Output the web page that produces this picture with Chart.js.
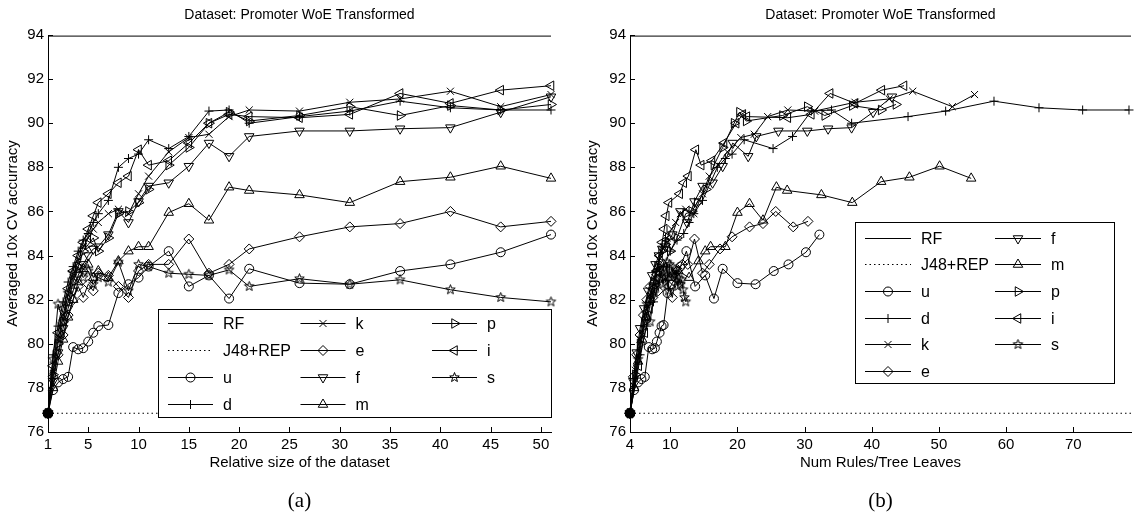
<!DOCTYPE html>
<html><head><meta charset="utf-8">
<script src="https://cdn.jsdelivr.net/npm/chart.js@4.4.1/dist/chart.umd.min.js"></script>
<style>
html,body{margin:0;padding:0;background:#fff;}
#wrap{position:relative;width:1143px;height:517px;overflow:hidden;background:#fff;}
.cv{position:absolute;top:0;}
.cap{position:absolute;top:486px;font-family:"Liberation Serif","DejaVu Serif",serif;font-size:21px;color:#000;width:100px;text-align:center;line-height:28px;}
</style></head><body>
<div id="wrap">
<div class="cv" style="left:0;width:570px;height:517px;"><canvas id="ca" width="570" height="517"></canvas></div>
<div class="cv" style="left:572px;width:571px;height:517px;"><canvas id="cb" width="571" height="517"></canvas></div>
<div class="cap" style="left:249.5px">(a)</div>
<div class="cap" style="left:830.5px">(b)</div>
</div>
<script>
// ---------------- data ----------------
const TITLE = 'Dataset: Promoter WoE Transformed';
const Y_TITLE = 'Averaged 10x CV accurracy';
const X_TITLE_A = 'Relative size of the dataset';
const X_TITLE_B = 'Num Rules/Tree Leaves';
const Y_TICKS = [76, 78, 80, 82, 84, 86, 88, 90, 92, 94];
const X_TICKS_A = [1, 5, 10, 15, 20, 25, 30, 35, 40, 45, 50];
const X_TICKS_B = [4, 10, 20, 30, 40, 50, 60, 70];
const RF = 93.95;
const J48 = 76.85;

// relative dataset size (panel a x values, shared by all series)
const SIZE = [1, 1.5, 2, 2.5, 3, 3.5, 4, 4.5, 5, 5.5, 6, 7, 8, 9, 10, 11, 13, 15, 17, 19, 21, 26, 31, 36, 41, 46, 51];

// accuracy per series
const U = [76.85, 77.9, 78.25, 78.4, 78.5, 79.85, 79.75, 79.8, 80.1, 80.5, 80.8, 80.85, 82.3, 82.7, 83.0, 83.5, 84.2, 82.6, 83.1, 82.05, 83.4, 82.75, 82.7, 83.3, 83.6, 84.15, 84.95];
const D = [76.85, 79.5, 80.8, 81.9, 82.8, 83.5, 84.2, 84.7, 85.0, 85.5, 85.9, 86.5, 88.0, 88.4, 88.6, 89.25, 88.85, 89.4, 90.55, 90.6, 90.0, 90.3, 90.55, 91.0, 90.7, 90.6, 90.6];
const K = [76.85, 78.8, 80.2, 81.3, 82.2, 83.0, 83.8, 84.4, 84.8, 85.2, 85.5, 85.9, 86.1, 85.9, 86.8, 87.6, 88.7, 89.35, 89.5, 90.3, 90.6, 90.55, 90.95, 91.1, 91.45, 90.75, 91.3];
const E = [76.85, 78.5, 79.5, 80.4, 81.3, 82.0, 82.6, 82.1, 82.7, 82.4, 83.2, 83.1, 82.6, 82.1, 83.3, 83.6, 83.6, 84.75, 83.2, 83.6, 84.3, 84.85, 85.3, 85.45, 86.0, 85.3, 85.55];
const F = [76.85, 78.3, 79.6, 80.7, 81.6, 82.4, 83.1, 83.6, 84.0, 84.3, 84.4, 84.95, 86.0, 85.5, 86.45, 87.15, 87.3, 88.05, 89.1, 88.5, 89.4, 89.65, 89.65, 89.75, 89.8, 90.5, 91.2];
const M = [76.85, 78.0, 79.2, 80.2, 81.2, 82.0, 82.8, 83.4, 83.6, 83.0, 83.3, 83.0, 83.75, 84.2, 84.4, 84.4, 85.95, 86.35, 85.6, 87.1, 86.95, 86.75, 86.4, 87.35, 87.55, 88.05, 87.5];
const P = [76.85, 78.6, 80.0, 81.0, 81.9, 82.8, 83.5, 84.2, 84.5, 84.8, 84.2, 84.8, 85.9, 86.0, 86.4, 87.0, 88.1, 88.9, 90.0, 90.5, 90.1, 90.35, 90.75, 90.35, 90.8, 90.6, 90.85];
const I = [76.85, 79.0, 80.5, 81.6, 82.5, 83.3, 84.0, 84.6, 85.2, 85.8, 86.4, 86.8, 87.3, 87.6, 88.8, 88.1, 88.3, 89.1, 90.0, 90.4, 90.3, 90.25, 90.4, 91.35, 90.9, 91.5, 91.7];
const S = [76.85, 79.3, 81.8, 81.0, 82.3, 83.2, 83.5, 83.0, 83.3, 82.7, 83.0, 82.8, 83.7, 82.4, 83.6, 83.5, 83.2, 83.15, 83.1, 83.35, 82.6, 82.95, 82.7, 82.9, 82.45, 82.1, 81.9];

// number of rules / tree leaves per series (panel b x values)
const U_LEAVES = [4, 4.6, 5.2, 5.7, 6.2, 6.8, 7.3, 7.7, 8.0, 8.4, 8.7, 9.0, 9.6, 10.2, 10.8, 11.5, 12.4, 13.7, 15.2, 16.5, 17.8, 20.0, 22.7, 25.4, 27.6, 30.2, 32.2];
const D_LEAVES = [4, 5.5, 6.5, 7.5, 8.3, 9.0, 10.0, 11.0, 12.0, 12.8, 13.5, 14.8, 17.0, 18.2, 19.2, 21.0, 25.3, 28.2, 31.0, 34.0, 37.0, 45.4, 51.0, 58.2, 64.9, 71.4, 78.3];
const K_LEAVES = [4, 4.8, 5.5, 6.2, 7.0, 7.7, 8.3, 9.0, 9.5, 10.2, 10.8, 11.5, 12.3, 13.5, 14.8, 15.8, 18.5, 20.5, 22.5, 24.5, 27.5, 31.5, 37.5, 42.6, 46.1, 52.0, 55.3];
const E_LEAVES = [4, 4.5, 5.0, 5.5, 6.0, 6.5, 7.0, 7.4, 7.8, 8.2, 8.6, 9.2, 9.8, 10.3, 11.0, 11.8, 12.6, 13.6, 14.8, 15.8, 17.4, 19.2, 21.8, 23.8, 25.7, 28.3, 30.5];
const F_LEAVES = [4, 4.5, 5.0, 5.5, 6.1, 6.7, 7.3, 7.8, 8.3, 8.8, 9.3, 10.3, 11.5, 12.5, 13.6, 14.8, 16.3, 17.8, 19.3, 21.6, 22.8, 26.1, 30.4, 33.5, 37.0, 40.2, 43.0];
const M_LEAVES = [4, 4.6, 5.2, 5.8, 6.4, 7.0, 7.5, 8.0, 9.0, 10.0, 11.2, 12.8, 14.2, 15.2, 16.0, 18.2, 20.0, 21.8, 23.8, 25.8, 27.4, 32.5, 37.1, 41.4, 45.6, 50.1, 54.8];
const P_LEAVES = [4, 4.8, 5.5, 6.2, 6.9, 7.5, 8.1, 8.7, 9.2, 9.7, 10.0, 11.0, 12.3, 13.2, 14.0, 15.3, 16.5, 17.8, 19.5, 20.3, 21.3, 26.7, 30.4, 33.0, 37.1, 41.4, 43.6];
const I_LEAVES = [4, 5.3, 6.2, 6.9, 7.5, 8.0, 8.4, 8.8, 9.1, 9.4, 9.8, 11.4, 12.0, 12.7, 13.8, 14.6, 16.2, 18.0, 19.8, 20.8, 21.4, 27.5, 31.0, 33.8, 37.5, 41.5, 44.8];
const S_LEAVES = [4, 5.2, 6.5, 7.0, 7.6, 8.0, 8.3, 8.5, 8.7, 8.9, 9.1, 9.3, 9.5, 9.7, 9.9, 10.1, 10.3, 10.5, 10.7, 10.9, 11.1, 11.3, 11.5, 11.7, 11.9, 12.1, 12.3];

// ---------------- styling ----------------
Chart.defaults.font.family = '"Liberation Sans", Arial, Helvetica, sans-serif';
Chart.defaults.color = '#000';

function makeStar() {
  const c = document.createElement('canvas');
  c.width = 13; c.height = 13;
  const g = c.getContext('2d');
  g.strokeStyle = '#000'; g.lineWidth = 1;
  g.beginPath();
  for (let k = 0; k < 10; k++) {
    const r = k % 2 === 0 ? 5 : 2.1;
    const a = -Math.PI / 2 + k * Math.PI / 5;
    const x = 6.5 + r * Math.cos(a), y = 6.5 + r * Math.sin(a);
    if (k) g.lineTo(x, y); else g.moveTo(x, y);
  }
  g.closePath(); g.stroke();
  return c;
}
const STAR = makeStar();

const MARK = {
  u: {style: 'circle', rot: 0, r: 4.5},
  d: {style: 'cross', rot: 0, r: 4.5},
  k: {style: 'crossRot', rot: 0, r: 5},
  e: {style: 'rectRot', rot: 0, r: 5},
  f: {style: 'triangle', rot: 180, r: 5.5},
  m: {style: 'triangle', rot: 0, r: 5.5},
  p: {style: 'triangle', rot: 90, r: 5.5},
  i: {style: 'triangle', rot: 270, r: 5.5},
  s: {style: STAR, rot: 0, r: 5}
};

function drawMarker(ctx, m, x, y) {
  ctx.save();
  ctx.strokeStyle = '#000'; ctx.lineWidth = 1;
  const r = m.r;
  if (typeof m.style !== 'string') {
    ctx.drawImage(m.style, x - m.style.width / 2, y - m.style.height / 2);
    ctx.restore(); return;
  }
  ctx.beginPath();
  if (m.style === 'circle') {
    ctx.arc(x, y, r, 0, Math.PI * 2);
  } else if (m.style === 'cross') {
    ctx.moveTo(x - r, y); ctx.lineTo(x + r, y); ctx.moveTo(x, y - r); ctx.lineTo(x, y + r);
  } else if (m.style === 'crossRot') {
    const q = r * Math.SQRT1_2;
    ctx.moveTo(x - q, y - q); ctx.lineTo(x + q, y + q); ctx.moveTo(x - q, y + q); ctx.lineTo(x + q, y - q);
  } else if (m.style === 'rectRot') {
    ctx.moveTo(x - r, y); ctx.lineTo(x, y - r); ctx.lineTo(x + r, y); ctx.lineTo(x, y + r); ctx.closePath();
  } else if (m.style === 'triangle') {
    let a = m.rot * Math.PI / 180;
    for (let k = 0; k < 3; k++) {
      const px = x + Math.sin(a) * r, py = y - Math.cos(a) * r;
      if (k) ctx.lineTo(px, py); else ctx.moveTo(px, py);
      a += 2 * Math.PI / 3;
    }
    ctx.closePath();
  }
  ctx.stroke();
  ctx.restore();
}

function seriesDS(name, xs, ys) {
  const m = MARK[name];
  return {
    label: name,
    data: xs.map((x, i) => ({x: x, y: ys[i]})),
    showLine: true, borderColor: '#000', borderWidth: 1, tension: 0, fill: false,
    pointStyle: m.style, pointRotation: m.rot, pointRadius: m.r, pointHoverRadius: m.r,
    pointBorderColor: '#000', pointBackgroundColor: 'rgba(0,0,0,0)', pointBorderWidth: 1,
    clip: false
  };
}

function refDS(label, y, x0, x1, dotted) {
  return {
    label: label,
    data: [{x: x0, y: y}, {x: x1, y: y}],
    showLine: true, borderColor: '#000', borderWidth: 1, fill: false,
    borderDash: dotted ? [1.5, 3] : [],
    pointRadius: dotted ? (c => c.dataIndex === 0 ? 4.8 : 0) : 0,
    pointStyle: 'circle', pointBackgroundColor: '#000', pointBorderColor: '#000',
    clip: false
  };
}

const tickPlugin = {
  id: 'inTicks',
  afterDraw(chart) {
    const ctx = chart.ctx, a = chart.chartArea;
    const xs = chart.scales.x, ys = chart.scales.y;
    ctx.save();
    ctx.strokeStyle = '#000'; ctx.lineWidth = 1;
    ctx.beginPath();
    xs.ticks.forEach(t => {
      const px = Math.round(xs.getPixelForValue(t.value)) + 0.5;
      ctx.moveTo(px, a.bottom); ctx.lineTo(px, a.bottom - 5);
    });
    ys.ticks.forEach(t => {
      const py = Math.round(ys.getPixelForValue(t.value)) + 0.5;
      ctx.moveTo(a.left, py); ctx.lineTo(a.left + 5, py);
    });
    ctx.stroke();
    ctx.restore();
  }
};

const legendPlugin = {
  id: 'boxLegend',
  afterDatasetsDraw(chart, args, opts) {
    const L = chart.options.plugins.boxLegend;
    if (!L) return;
    const ctx = chart.ctx;
    ctx.save();
    ctx.fillStyle = '#fff';
    ctx.fillRect(L.box[0], L.box[1], L.box[2] - L.box[0], L.box[3] - L.box[1]);
    ctx.strokeStyle = '#000'; ctx.lineWidth = 1;
    ctx.strokeRect(L.box[0] + 0.5, L.box[1] + 0.5, L.box[2] - L.box[0] - 1, L.box[3] - L.box[1] - 1);
    ctx.font = '16px "Liberation Sans", Arial, sans-serif';
    ctx.textBaseline = 'middle';
    ctx.fillStyle = '#000';
    L.cols.forEach((col, ci) => {
      const x0 = L.colX[ci];
      col.forEach((name, ri) => {
        const y = Math.round(L.row0 + ri * L.rowStep) + 0.5;
        ctx.beginPath();
        ctx.setLineDash(name === 'J48+REP' ? [1.5, 3] : []);
        ctx.moveTo(x0, y); ctx.lineTo(x0 + L.lineLen, y);
        ctx.stroke();
        ctx.setLineDash([]);
        if (MARK[name]) drawMarker(ctx, MARK[name], x0 + L.lineLen / 2, y);
        ctx.fillText(name, x0 + L.lineLen + 10, y + 1);
      });
    });
    ctx.restore();
  }
};

function makeChart(id, cfg) {
  return new Chart(document.getElementById(id), {
    type: 'scatter',
    data: {datasets: cfg.datasets},
    options: {
      responsive: false, animation: false, devicePixelRatio: 1,
      layout: {padding: {left: 0, right: cfg.padRight, top: 0, bottom: 45}},
      plugins: {
        legend: {display: false}, tooltip: {enabled: false},
        title: {display: true, text: TITLE, fullSize: false,
          font: {size: 14, weight: 'normal'}, padding: {top: 6.6, bottom: 11.6}, color: '#000'},
        boxLegend: cfg.legend
      },
      scales: {
        x: {
          type: 'linear', min: cfg.xMin, max: cfg.xMax,
          afterBuildTicks: s => { s.ticks = cfg.xTicks.map(v => ({value: v})); },
          afterFit: s => { s.height = 40; },
          ticks: {font: {size: 15}, padding: 4, maxRotation: 0, autoSkip: false, color: '#000'},
          grid: {display: true, drawOnChartArea: false, drawTicks: false, color: 'rgba(0,0,0,0)'},
          border: {display: true, color: '#000', width: 1},
          title: {display: true, text: cfg.xTitle, font: {size: 15}, padding: {top: 0, bottom: 0}, color: '#000'}
        },
        y: {
          type: 'linear', min: 76, max: 94,
          afterBuildTicks: s => { s.ticks = Y_TICKS.map(v => ({value: v})); },
          afterFit: s => { s.width = cfg.yWidth; },
          ticks: {font: {size: 15}, padding: 4, color: '#000'},
          grid: {display: true, drawOnChartArea: false, drawTicks: false, color: 'rgba(0,0,0,0)'},
          border: {display: true, color: '#000', width: 1},
          title: {display: true, text: Y_TITLE, font: {size: 15}, padding: {top: cfg.yTitlePad, bottom: 0}, color: '#000'}
        }
      }
    },
    plugins: [legendPlugin, tickPlugin]
  });
}

const SERIES_A = [['u', U], ['d', D], ['k', K], ['e', E], ['f', F], ['m', M], ['p', P], ['i', I], ['s', S]];
const SERIES_B = [['u', U_LEAVES, U], ['d', D_LEAVES, D], ['k', K_LEAVES, K], ['e', E_LEAVES, E], ['f', F_LEAVES, F],
                  ['m', M_LEAVES, M], ['p', P_LEAVES, P], ['i', I_LEAVES, I], ['s', S_LEAVES, S]];

makeChart('ca', {
  xMin: 1, xMax: 51, xTicks: X_TICKS_A, xTitle: X_TITLE_A, padRight: 19, yWidth: 48, yTitlePad: 4,
  datasets: [refDS('J48+REP', J48, 1, 51, true), refDS('RF', RF, 1, 51, false)]
    .concat(SERIES_A.map(s => seriesDS(s[0], SIZE, s[1]))),
  legend: {box: [158, 309, 552, 418], colX: [168, 300.5, 432], lineLen: 45, row0: 323, rowStep: 27,
    cols: [['RF', 'J48+REP', 'u', 'd'], ['k', 'e', 'f', 'm'], ['p', 'i', 's']]}
});

makeChart('cb', {
  xMin: 4, xMax: 78.6, xTicks: X_TICKS_B, xTitle: X_TITLE_B, padRight: 12, yWidth: 58, yTitlePad: 12,
  datasets: [refDS('J48+REP', J48, 4, 78.6, true), refDS('RF', RF, 4, 78.6, false)]
    .concat(SERIES_B.map(s => seriesDS(s[0], s[1], s[2]))),
  legend: {box: [283, 222, 543, 384], colX: [293, 423], lineLen: 46, row0: 237.5, rowStep: 26.7,
    cols: [['RF', 'J48+REP', 'u', 'd', 'k', 'e'], ['f', 'm', 'p', 'i', 's']]}
});
</script>
</body></html>
